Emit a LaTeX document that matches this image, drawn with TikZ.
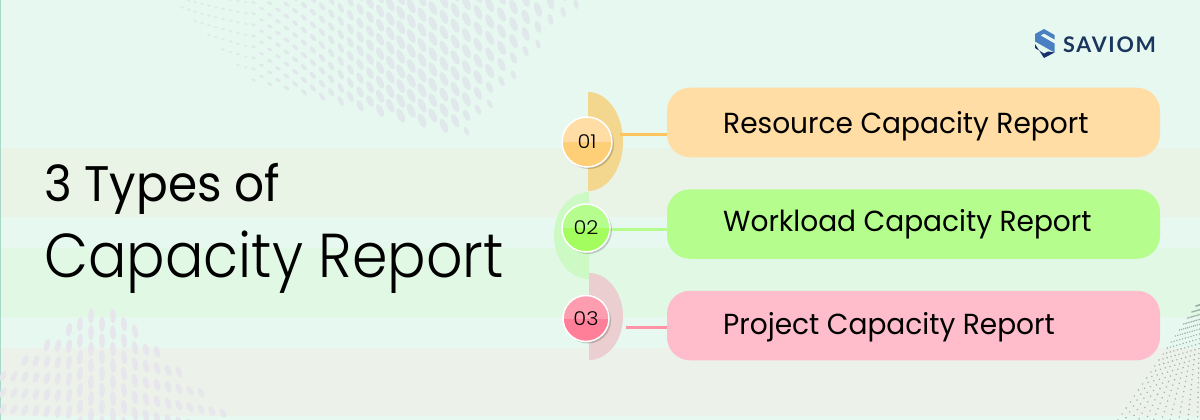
\documentclass[tikz,border=0pt]{standalone}
\usepackage{fontspec}
\usepackage{tikz}
\usetikzlibrary{shadows}
\setmainfont[FakeStretch=.967]{Poppins}
\newfontfamily\lightfont[FakeStretch=.92]{Poppins Light}
\newfontfamily\headfont[FakeStretch=.94]{Poppins}
\newfontfamily\numfont[FakeStretch=1.1]{Poppins Light}
\newfontfamily\logofont[LetterSpace=8]{Lato}
\definecolor{basebg}{HTML}{E6F8F0}
\definecolor{bandone}{HTML}{EAF4E6}
\definecolor{bandtwo}{HTML}{E1F8E5}
\definecolor{bandthree}{HTML}{ECF1EA}
\definecolor{edgeline}{HTML}{A8D8C8}
\definecolor{topdot}{HTML}{E1E8EB}
\definecolor{lowdot}{HTML}{E6E6EC}
\definecolor{fandot}{HTML}{9FB0AA}
\definecolor{orangecard}{HTML}{FFDDA5}
\definecolor{greencard}{HTML}{B5FE8E}
\definecolor{pinkcard}{HTML}{FFBDCB}
\definecolor{orangehalf}{HTML}{F4D78F}
\definecolor{greenhalf}{HTML}{CDF9C4}
\definecolor{pinkhalf}{HTML}{EBCFD0}
\definecolor{orangeline}{HTML}{FFC45E}
\definecolor{pinkline}{HTML}{FF93A5}
\definecolor{orangelow}{HTML}{FFCF78}
\definecolor{greenlow}{HTML}{A3FD5F}
\definecolor{pinktop}{HTML}{FF9DB0}
\definecolor{pinklow}{HTML}{FF7F98}
\definecolor{logolight}{HTML}{4A7FC1}
\definecolor{logodark}{HTML}{1B365D}
\tikzset{
  cardbox/.style={rounded corners=23pt,minimum height=69.5pt,minimum width=493pt,inner sep=0pt},
  cardtext/.style={anchor=base west,inner sep=0pt,font=\fontsize{29}{32}\selectfont},
  numdisc/.style n args={3}{circle,draw=white,line width=1.5pt,fill=#1,minimum size=#3,inner sep=0pt,
    font=\numfont\fontsize{19}{20}\selectfont,
    drop shadow={shadow xshift=2pt,shadow yshift=-2pt,opacity=.18,fill=black},
    path picture={\fill[#2] (path picture bounding box.west) rectangle (path picture bounding box.south east);}},
  linkline/.style={line width=3pt}
}
\begin{document}
\begin{tikzpicture}[x=1pt,y=-1pt]
\useasboundingbox (0,0) rectangle (1200,420);
\clip (0,0) rectangle (1200,420);
% background bands
\fill[basebg] (0,0) rectangle (1200,420);
\fill[bandone] (0,148) rectangle (1200,217);
\fill[bandtwo] (0,248) rectangle (1200,317);
\fill[bandthree] (0,348) rectangle (1200,416);
\fill[edgeline] (0,0) rectangle (1,420);
% dots at the top
\foreach \i in {0,...,44}{
  \foreach \j in {0,...,12}{
    \pgfmathsetmacro\dx{170+6*\i+.08*\i*\i}
    \pgfmathsetmacro\vs{1.4*(6+.16*\i)}
    \pgfmathsetmacro\base{\dx<253 ? 1.03*(\dx-175) : 80+.24*(\dx-253)}
    \pgfmathsetmacro\dy{\base-(\j+.5*mod(\i,2))*\vs}
    \pgfmathsetmacro\rb{max(128-1.2*(\dx-470),30-.86*(\dx-550))}
    \pgfmathtruncatemacro\keep{(\dy<\rb)&&(\dy>-9)}
    \ifnum\keep=1
      \pgfmathsetmacro\sf{max(.15,min(1,(\dx-220)/180))*min(1,.55+(\rb-\dy)/70)}
      \pgfmathsetmacro\rt{25+55*max(0,min(1,(340-\dx)/100))-10*max(0,min(1,(\dx-500)/60))}
      \fill[topdot] (\dx,\dy) ellipse[x radius=.8pt+2.6pt*\sf,y radius=1pt+6.5pt*\sf,rotate=\rt];
    \fi
  }
}
% dots at the bottom left
\foreach \i in {0,...,24}{
  \foreach \j in {0,...,6}{
    \pgfmathsetmacro\dx{3+11*\i}
    \pgfmathsetmacro\tp{\dx<80 ? 322+.7*(80-\dx) : (\dx>125 ? 322+.93*(\dx-125) : 316)}
    \pgfmathsetmacro\dy{\tp+(\j+.5*mod(\i,2))*16.5}
    \pgfmathsetmacro\rt{max(-30,min(30,(\dx-100)*.3))}
    \pgfmathsetmacro\ra{7.5-.022*abs(\dx-100)}
    \fill[lowdot] (\dx,\dy) ellipse[x radius=2.8pt,y radius=\ra pt,rotate=\rt];
  }
}
% dots at the bottom right
\foreach \i in {0,...,11}{
  \foreach \j in {1,...,24}{
    \pgfmathsetmacro\dx{1200+(\i*8-82)*\j/20}
    \pgfmathsetmacro\dy{300+120*\j/20-25*\i/11*\j/20}
    \fill[fandot] (\dx,\dy) circle (.8pt);
  }
}
% half discs
\fill[orangehalf] (588,92) arc[start angle=90,end angle=-90,x radius=35pt,y radius=49.5pt] -- cycle;
\fill[greenhalf] (589,192) arc[start angle=90,end angle=270,x radius=35pt,y radius=43.5pt] -- cycle;
\fill[pinkhalf] (589,273) arc[start angle=90,end angle=-90,x radius=34pt,y radius=43.5pt] -- cycle;
% links and cards
\node[cardbox,fill=orangecard] (card1) at (913.5,122.5) {};
\node[cardbox,fill=greencard] (card2) at (913.5,224) {};
\node[cardbox,fill=pinkcard] (card3) at (913.5,325.5) {};
\node[cardtext] (text1) at (723,133.3) {Resource Capacity Report};
\node[cardtext] (text2) at (723,231.7) {Workload Capacity Report};
\node[cardtext] (text3) at (723,334.3) {Project Capacity Report};
\coordinate (link1) at (620,134.5);
\coordinate (link2) at (610,229.5);
\coordinate (link3) at (626,327.5);
\draw[linkline,color=orangeline] (link1) -- (link1 -| card1.west);
\draw[linkline,color=greencard] (link2) -- (link2 -| card2.west);
\draw[linkline,color=pinkline] (link3) -- (link3 -| card3.west);
% number discs
\node[numdisc={orangecard}{orangelow}{50pt}] (num1) at (587,142) {01};
\node[numdisc={greencard}{greenlow}{48pt}] (num2) at (586,228) {02};
\node[numdisc={pinktop}{pinklow}{46pt}] (num3) at (586,318.5) {03};
% title
\node[anchor=base west,inner sep=0pt,font=\headfont\fontsize{50}{54}\selectfont] (title1) at (44,201) {3 Types of};
\node[anchor=base west,inner sep=0pt,font=\lightfont\fontsize{62}{66}\selectfont] (title2) at (44,277) {Capacity Report};
% logo
\fill[logolight] (1035,34)--(1044,29)--(1054.5,35)--(1054.5,39.5)--(1044,33.5)--(1040.5,35.5)--(1054.5,43.5)--(1054.5,52.5)--(1035,41.5)--cycle;
\fill[logodark!90!blue] (1035,44)--(1035,48)--(1044,53.5)--(1048,51.5)--(1054.5,52.5)--(1044,58)--cycle;
\node[anchor=base west,inner sep=0pt,text=logodark,font=\logofont\bfseries\fontsize{21.5}{24}\selectfont] (logotext) at (1063,52.5) {SAVIOM};
\end{tikzpicture}
\end{document}
